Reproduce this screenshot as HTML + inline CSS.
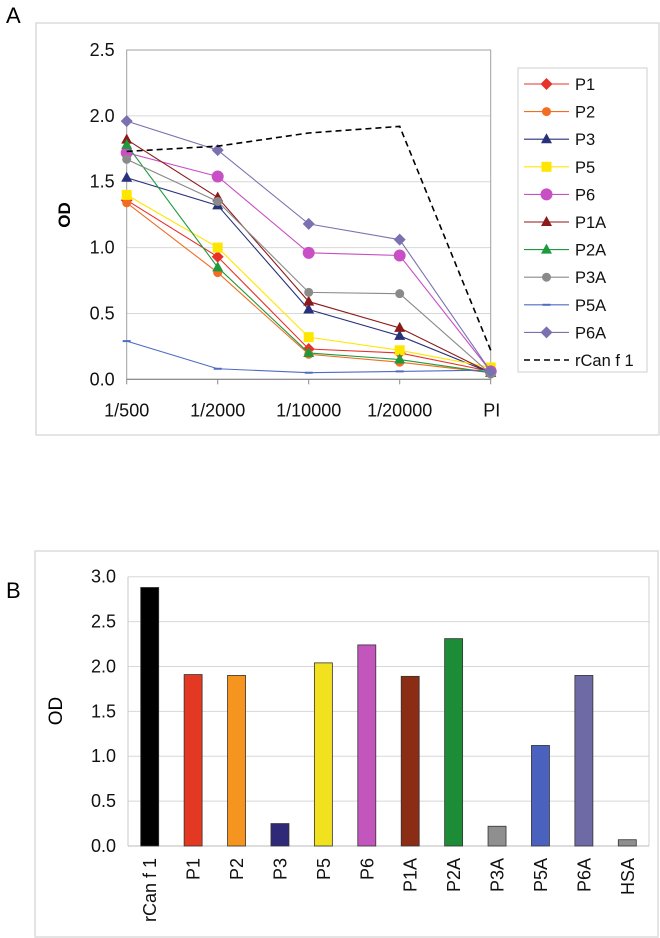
<!DOCTYPE html>
<html><head><meta charset="utf-8">
<style>
html,body{margin:0;padding:0;background:#fff;}
svg{display:block;font-family:"Liberation Sans",Arial,sans-serif;}
</style></head>
<body>
<svg id="fig" width="660" height="938" viewBox="0 0 660 938" xmlns="http://www.w3.org/2000/svg">
<text x="6" y="23" font-size="22">A</text>
<rect x="36" y="23" width="623" height="412" fill="none" stroke="#dcdcdc" stroke-width="1.5"/>
<text x="6" y="598" font-size="22">B</text>
<rect x="35" y="551" width="623" height="386" fill="none" stroke="#dcdcdc" stroke-width="1.5"/>
<g id="ga"></g>
<g id="gb"></g>
</svg>
<script>
const catsA = ["1/500","1/2000","1/10000","1/20000","PI"];
const seriesNames = ["P1","P2","P3","P5","P6","P1A","P2A","P3A","P5A","P6A","rCan f 1"];
const seriesColors = ["#e8312a","#f26c21","#28317a","#ffe600","#c94fc5","#8c1a1a","#1e9a3c","#8a8a8a","#4f6cc4","#7a72b0","#000000"];
const seriesMarkers = ["diamond","circle","triangle","square","circle-big","triangle","triangle","circle","dash","diamond","none"];
const vP1  = [1.36,0.93,0.23,0.20,0.06];
const vP2  = [1.34,0.81,0.19,0.13,0.05];
const vP3  = [1.53,1.32,0.53,0.33,0.05];
const vP5  = [1.40,1.00,0.32,0.22,0.09];
const vP6  = [1.72,1.54,0.96,0.94,0.06];
const vP1A = [1.82,1.38,0.59,0.39,0.05];
const vP2A = [1.78,0.85,0.20,0.15,0.05];
const vP3A = [1.67,1.35,0.66,0.65,0.04];
const vP5A = [0.29,0.08,0.05,0.06,0.07];
const vP6A = [1.96,1.74,1.18,1.06,0.06];
const vRcan= [1.73,1.77,1.87,1.92,0.22];
const ticksA = [0,0.5,1.0,1.5,2.0,2.5];

const catsB = ["rCan f 1","P1","P2","P3","P5","P6","P1A","P2A","P3A","P5A","P6A","HSA"];
const valsB = [2.88,1.91,1.90,0.25,2.04,2.24,1.89,2.31,0.22,1.12,1.90,0.07];
const colorsB = ["#000000","#e33822","#f5951f","#2e2a78","#f1e11f","#c356bd","#8b2d14","#1c8c36","#8f8f8f","#4a62bd","#6e6aa5","#8f8f8f"];
const ticksB = [0,0.5,1.0,1.5,2.0,2.5,3.0];

const NS="http://www.w3.org/2000/svg";
function mk(parent,tag,attrs){const e=document.createElementNS(NS,tag);for(const k in attrs)e.setAttribute(k,attrs[k]);parent.appendChild(e);return e;}

// Panel A
const ga=document.getElementById('ga');
const AX0=126.7,AX1=490.7,AY0=379.3,AY1=50;
const xA=i=>AX0+i*(AX1-AX0)/(catsA.length-1);
const yA=v=>AY0-(v/2.5)*(AY0-AY1);
ticksA.forEach(t=>{
  if(t>0){const g=mk(ga,'line',{x1:AX0,x2:AX1,y1:yA(t),y2:yA(t),stroke:'#d8d8d8','stroke-width':1});
  
  }
  const tx=mk(ga,'text',{x:AX0-12,y:yA(t)+6,'font-size':18,'text-anchor':'end',fill:'#111'});
  tx.textContent=t.toFixed(1);
  
  
});
const fr=mk(ga,'rect',{x:AX0,y:AY1,width:AX1-AX0,height:AY0-AY1,fill:'none',stroke:'#a0a0a0','stroke-width':1});


mk(ga,'line',{x1:AX0,x2:AX1,y1:AY0,y2:AY0,stroke:'#888','stroke-width':1.2});
catsA.forEach((c,i)=>{
  mk(ga,'line',{x1:xA(i),x2:xA(i),y1:AY0,y2:AY0+5,stroke:'#888'});
  const tx=mk(ga,'text',{x:xA(i)+(i==4?1:0),y:AY0+37,'font-size':18,'text-anchor':'middle',fill:'#111'});
  tx.textContent=c;
  
  
});
const yt=mk(ga,'text',{x:0,y:0,'font-size':17,'font-weight':'bold','text-anchor':'middle',transform:'translate(70,215) rotate(-90)'});
yt.textContent='OD';



function marker(g,type,x,y,c){
  let e;
  if(type==='diamond') e=mk(g,'polygon',{points:`${x},${y-6} ${x+6},${y} ${x},${y+6} ${x-6},${y}`,fill:c});
  else if(type==='circle') e=mk(g,'circle',{cx:x,cy:y,r:4.5,fill:c});
  else if(type==='circle-big') e=mk(g,'circle',{cx:x,cy:y,r:6,fill:c});
  else if(type==='triangle') e=mk(g,'polygon',{points:`${x},${y-6} ${x+5.5},${y+4} ${x-5.5},${y+4}`,fill:c});
  else if(type==='square') e=mk(g,'rect',{x:x-5,y:y-5,width:10,height:10,fill:c});
  else if(type==='dash') e=mk(g,'line',{x1:x-4,x2:x+4,y1:y,y2:y,stroke:c,'stroke-width':2});
  return e;
}
const allSeries=[vP1,vP2,vP3,vP5,vP6,vP1A,vP2A,vP3A,vP5A,vP6A,vRcan];
allSeries.forEach((vals,si)=>{
  const g=mk(ga,'g',{});
  
  
  const pts=vals.map((v,i)=>xA(i)+','+yA(v)).join(' ');
  const dash=si===10;
  mk(g,'polyline',{points:pts,fill:'none',stroke:seriesColors[si],'stroke-width':dash?1.6:1.1,'stroke-dasharray':dash?'6,4':'none'});
  vals.forEach((v,i)=>{
    const m=marker(g,seriesMarkers[si],xA(i),yA(v),seriesColors[si]);
    if(m){
    }
  });
});
// Legend
const lg=mk(ga,'g',{});


mk(lg,'rect',{x:518,y:68,width:129,height:304,fill:'#fff',stroke:'#cfcfcf'});
seriesNames.forEach((n,i)=>{
  const y=84+i*27.6;
  const e=mk(lg,'g',{});
  
  
  const dash=i===10;
  mk(e,'line',{x1:524,x2:569,y1:y,y2:y,stroke:seriesColors[i],'stroke-width':dash?1.6:1.1,'stroke-dasharray':dash?'6,4':'none'});
  marker(e,seriesMarkers[i],546.5,y,seriesColors[i]);
  const t=mk(e,'text',{x:575,y:y+6,'font-size':16.5,fill:'#111'});
  t.textContent=n;
});

// Panel B
const gb=document.getElementById('gb');
const BX0=128,BX1=649,BY0=846,BY1=576.7;
const bw=(BX1-BX0)/catsB.length;
const xB=i=>BX0+bw*(i+0.5);
const yB=v=>BY0-(v/3)*(BY0-BY1);
ticksB.forEach(t=>{
  if(t>0){const g=mk(gb,'line',{x1:BX0,x2:BX1,y1:yB(t),y2:yB(t),stroke:'#d8d8d8','stroke-width':1});
  
  }
  const tx=mk(gb,'text',{x:BX0-12,y:yB(t)+6,'font-size':18,'text-anchor':'end',fill:'#111'});
  tx.textContent=t.toFixed(1);
  
  
});
mk(gb,'line',{x1:BX1,x2:BX1,y1:BY1,y2:BY0,stroke:'#d0d0d0'});
mk(gb,'line',{x1:BX0,x2:BX0,y1:BY1,y2:BY0,stroke:'#c8c8c8'});
mk(gb,'line',{x1:BX0,x2:BX1,y1:BY0,y2:BY0,stroke:'#bbb'});
const ytb=mk(gb,'text',{x:0,y:0,'font-size':19,'text-anchor':'middle',transform:'translate(62,711) rotate(-90)'});
ytb.textContent='OD';


valsB.forEach((v,i)=>{
  const r=mk(gb,'rect',{x:xB(i)-9,y:yB(v),width:18,height:BY0-yB(v),fill:colorsB[i],stroke:'#333','stroke-width':0.8});
  
  
  const t=mk(gb,'text',{x:0,y:0,'font-size':18,'text-anchor':'end',fill:'#111',transform:`translate(${xB(i)+6.5},${BY0+12}) rotate(-90)`});
  t.textContent=catsB[i];
  
  
});
</script>
</body></html>
